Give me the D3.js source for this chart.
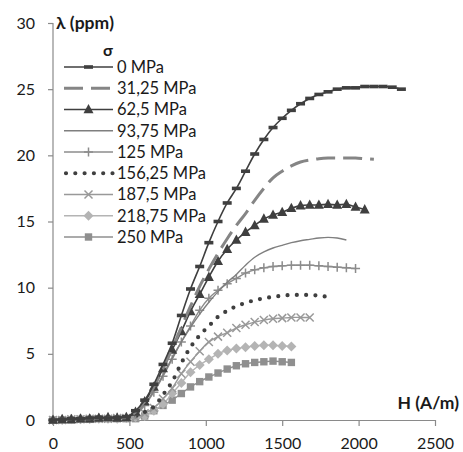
<!DOCTYPE html>
<html>
<head>
<meta charset="utf-8">
<script src="https://cdn.jsdelivr.net/npm/d3@7"></script>
<style>
  body { margin: 0; background: #fff; }
  text { font-family: Lato, "Open Sans", sans-serif; }
</style>
</head>
<body>
<div id="chart"></div>
<script>
// H grid (A/m), shared by all series
const hValues = [0, 60, 120, 180, 240, 300, 360, 420, 480, 540, 600, 660, 720, 780, 840, 900,
  960, 1020, 1080, 1140, 1200, 1260, 1320, 1380, 1440, 1500, 1560, 1620, 1680, 1740,
  1800, 1860, 1920, 1980, 2040, 2100, 2160, 2220, 2280];

// lambda (ppm) per stress level
const s0 = [0.0, 0.05, 0.1, 0.1, 0.15, 0.2, 0.15, 0.2, 0.25, 0.7, 1.5, 2.7, 4.2, 5.8, 7.9, 9.9,
  11.6, 13.4, 15.0, 16.4, 17.5, 18.8, 20.1, 21.2, 22.1, 22.8, 23.4, 23.9, 24.3, 24.6,
  24.8, 25.0, 25.1, 25.1, 25.2, 25.2, 25.2, 25.15, 25.0];
const s31 = [0.0, 0.05, 0.1, 0.1, 0.1, 0.15, 0.15, 0.2, 0.2, 0.6, 1.4, 2.5, 3.9, 5.4, 7.0, 8.6,
  10.1, 11.4, 12.6, 13.7, 14.7, 15.6, 16.6, 17.5, 18.3, 18.8, 19.2, 19.5, 19.65, 19.75,
  19.8, 19.8, 19.8, 19.8, 19.75, 19.7];
const s62 = [0.0, 0.05, 0.05, 0.1, 0.1, 0.15, 0.2, 0.15, 0.2, 0.6, 1.4, 2.5, 3.9, 5.3, 6.7, 8.2,
  9.5, 10.8, 12.0, 12.9, 13.6, 14.2, 14.7, 15.2, 15.5, 15.7, 16.0, 16.2, 16.25, 16.25,
  16.3, 16.25, 16.3, 16.1, 15.9];
const s93 = [0.0, 0.05, 0.05, 0.1, 0.1, 0.1, 0.15, 0.15, 0.2, 0.5, 1.2, 2.2, 3.4, 4.7, 5.9, 7.0,
  8.0, 8.9, 9.7, 10.4, 11.0, 11.7, 12.3, 12.7, 13.0, 13.2, 13.4, 13.55, 13.65, 13.75,
  13.8, 13.75, 13.6];
const s125 = [0.0, 0.05, 0.1, 0.1, 0.1, 0.15, 0.15, 0.2, 0.2, 0.4, 1.1, 2.1, 3.3, 4.6, 5.9, 7.1,
  8.3, 9.2, 9.8, 10.3, 10.7, 11.1, 11.35, 11.5, 11.6, 11.65, 11.7, 11.7, 11.7, 11.65,
  11.6, 11.55, 11.5, 11.45];
const s156 = [0.0, 0.05, 0.05, 0.1, 0.1, 0.1, 0.15, 0.15, 0.2, 0.3, 0.6, 1.0, 1.9, 2.9, 4.3, 5.5,
  6.4, 7.1, 7.8, 8.25, 8.6, 8.85, 9.05, 9.2, 9.3, 9.4, 9.45, 9.45, 9.45, 9.4, 9.3];
const s187 = [0.0, 0.0, 0.05, 0.05, 0.1, 0.1, 0.1, 0.15, 0.15, 0.2, 0.5, 0.9, 1.6, 2.4, 3.5, 4.4,
  5.2, 5.9, 6.3, 6.6, 6.95, 7.2, 7.4, 7.55, 7.65, 7.7, 7.75, 7.75, 7.75];
const s218 = [0.0, 0.0, 0.05, 0.05, 0.1, 0.1, 0.1, 0.1, 0.15, 0.2, 0.3, 0.7, 1.2, 2.0, 2.8, 3.6,
  4.15, 4.6, 5.0, 5.25, 5.4, 5.5, 5.6, 5.65, 5.65, 5.6, 5.55];
const s250 = [0.0, 0.0, 0.0, 0.05, 0.05, 0.1, 0.1, 0.1, 0.1, 0.1, 0.3, 0.7, 1.1, 1.5, 2.0, 2.5,
  2.9, 3.25, 3.55, 3.85, 4.1, 4.25, 4.35, 4.4, 4.45, 4.4, 4.35];

const seriesNames = ["0 MPa", "31,25 MPa", "62,5 MPa", "93,75 MPa", "125 MPa",
  "156,25 MPa", "187,5 MPa", "218,75 MPa", "250 MPa"];
const seriesValues = [s0, s31, s62, s93, s125, s156, s187, s218, s250];

const yTicks = [0, 5, 10, 15, 20, 25, 30];
const xTicks = [0, 500, 1000, 1500, 2000, 2500];

// styles for each series
const styles = [
  { color: "#3f3f3f", width: 1.6, dash: null, marker: "bar" },
  { color: "#858585", width: 3, dash: "19,8", marker: null },
  { color: "#3f3f3f", width: 1.6, dash: null, marker: "triangle" },
  { color: "#7f7f7f", width: 1.4, dash: null, marker: null },
  { color: "#8c8c8c", width: 1.4, dash: null, marker: "plus" },
  { color: "#3f3f3f", width: 4.2, dash: "0,9.3", marker: null },
  { color: "#999999", width: 1.4, dash: null, marker: "cross" },
  { color: "#b4b4b4", width: 1.4, dash: null, marker: "diamond" },
  { color: "#8f8f8f", width: 1.4, dash: null, marker: "square" },
];

const width = 463, height = 452;
const x = d3.scaleLinear().domain([0, 2500]).range([53, 435]);
const y = d3.scaleLinear().domain([0, 30]).range([420, 23]);

const svg = d3.select("#chart").append("svg")
  .attr("width", width).attr("height", height);

// axes
const yAxis = svg.append("g")
  .attr("transform", "translate(" + x(0) + ",0)")
  .call(d3.axisLeft(y).tickValues(yTicks).tickSizeInner(5).tickSizeOuter(0).tickPadding(13));
const xAxis = svg.append("g")
  .attr("transform", "translate(0," + y(0) + ")")
  .call(d3.axisBottom(x).tickValues(xTicks).tickFormat(d3.format("d"))
    .tickSizeInner(6).tickSizeOuter(0).tickPadding(12));

[yAxis, xAxis].forEach(function (a) {
  a.select(".domain").attr("stroke", "#8a8a8a").attr("stroke-width", 1.2);
  a.selectAll(".tick line").attr("stroke", "#8a8a8a").attr("stroke-width", 1.2);
  a.selectAll(".tick text").attr("fill", "#1a1a1a").style("font-size", "16px")
    .style("font-family", "Lato, 'Open Sans', sans-serif");
});
// y axis continues a little below the x axis
yAxis.select(".domain").attr("d", "M0," + y(30) + "V" + (y(0) + 5));

// axis titles
svg.append("text").attr("x", 56).attr("y", 29)
  .style("font-size", "17.5px").style("font-weight", "bold").attr("fill", "#1a1a1a")
  .text("λ (ppm)");
svg.append("text").attr("x", 459).attr("y", 409).attr("text-anchor", "end")
  .style("font-size", "17.5px").style("font-weight", "bold").attr("fill", "#1a1a1a")
  .text("H (A/m)");

// marker drawing
function drawMarker(g, type, color) {
  if (type === "bar") {
    g.append("rect").attr("x", -4.5).attr("y", -1.8).attr("width", 9).attr("height", 3.6).attr("fill", color);
  } else if (type === "triangle") {
    g.append("path").attr("d", "M0,-5.5L5,3.8L-5,3.8Z").attr("fill", color);
  } else if (type === "plus") {
    g.append("path").attr("d", "M-4.5,0H4.5M0,-4.5V4.5").attr("stroke", color).attr("stroke-width", 1.5);
  } else if (type === "cross") {
    g.append("path").attr("d", "M-4,-4L4,4M-4,4L4,-4").attr("stroke", color).attr("stroke-width", 1.5);
  } else if (type === "diamond") {
    g.append("path").attr("d", "M0,-5L5,0L0,5L-5,0Z").attr("fill", color);
  } else if (type === "square") {
    g.append("rect").attr("x", -3.7).attr("y", -3.7).attr("width", 7.4).attr("height", 7.4).attr("fill", color);
  }
}

const line = d3.line()
  .x(function (d) { return x(d[0]); })
  .y(function (d) { return y(d[1]); })
  .curve(d3.curveCatmullRom.alpha(0.5));

// draw series (last first so 0 MPa is on top)
for (let i = seriesValues.length - 1; i >= 0; i--) {
  const st = styles[i];
  const pts = seriesValues[i].map(function (v, j) { return [hValues[j], v]; });
  svg.append("path")
    .datum(pts)
    .attr("fill", "none")
    .attr("stroke", st.color)
    .attr("stroke-width", st.width)
    .attr("stroke-linecap", st.dash && st.dash.startsWith("0") ? "round" : "butt")
    .attr("stroke-dasharray", st.dash)
    .attr("d", line);
  if (st.marker) {
    svg.append("g").selectAll("g")
      .data(pts)
      .enter()
      .append("g")
      .attr("transform", function (d) { return "translate(" + x(d[0]) + "," + y(d[1]) + ")"; })
      .each(function () { drawMarker(d3.select(this), st.marker, st.color); });
  }
}

// legend
const legend = svg.append("g");
legend.append("text").attr("x", 108).attr("y", 56).attr("text-anchor", "middle")
  .style("font-size", "16px").style("font-weight", "bold").attr("fill", "#1a1a1a").text("σ");
seriesNames.forEach(function (name, i) {
  const st = styles[i];
  const ly = 67 + i * 21.25;
  legend.append("line")
    .attr("x1", st.dash && st.dash.startsWith("0") ? 66 : 64).attr("x2", 113)
    .attr("y1", ly).attr("y2", ly)
    .attr("stroke", st.color).attr("stroke-width", st.width)
    .attr("stroke-linecap", st.dash && st.dash.startsWith("0") ? "round" : "butt")
    .attr("stroke-dasharray", st.dash);
  if (st.marker) {
    const g = legend.append("g").attr("transform", "translate(88.5," + ly + ")");
    drawMarker(g, st.marker, st.color);
  }
  legend.append("text").attr("x", 117).attr("y", ly).attr("dy", "0.35em")
    .style("font-size", "16.5px").attr("fill", "#1a1a1a").text(name);
});
</script>
</body>
</html>
